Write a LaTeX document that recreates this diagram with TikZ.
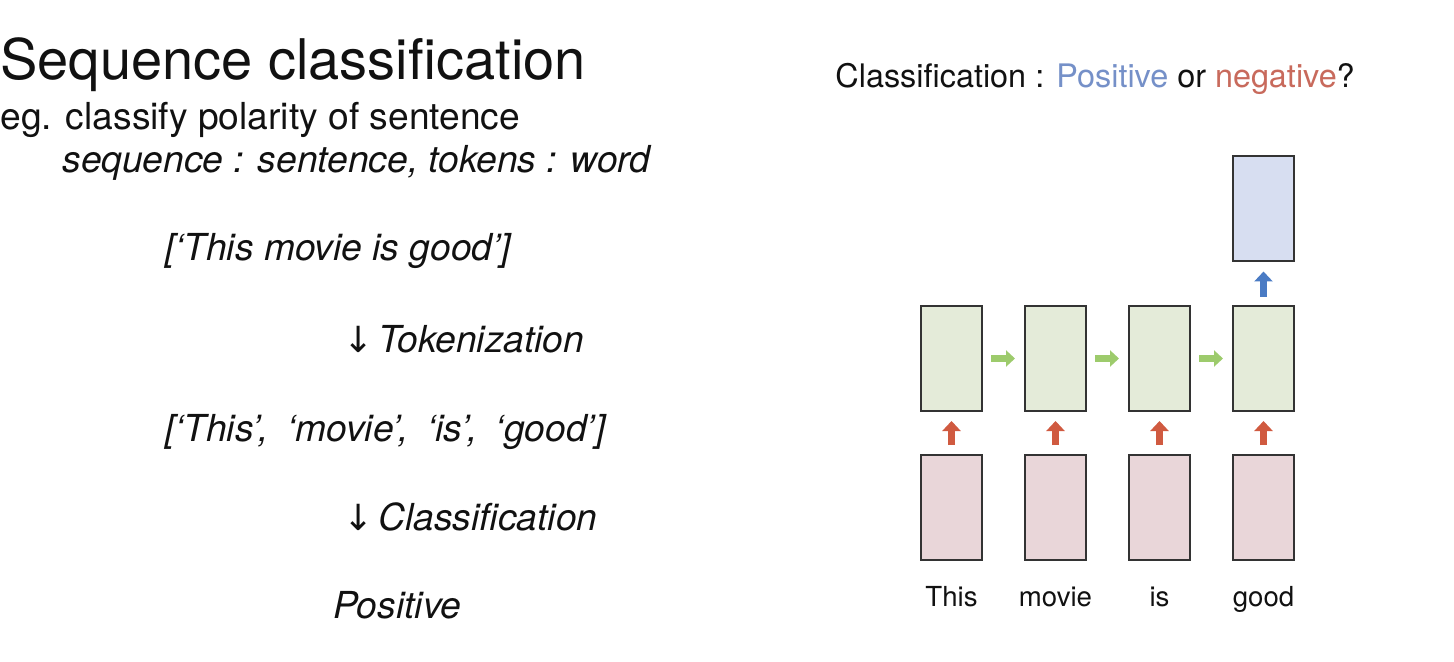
\documentclass[tikz,border=0pt]{standalone}
\usepackage{fontspec}
\setmainfont{TeX Gyre Heros}
\newfontfamily\symfont{DejaVu Sans}
\usetikzlibrary{arrows.meta}
\definecolor{gfill}{HTML}{E4EBD9}
\definecolor{pfill}{HTML}{E9D6D9}
\definecolor{bfill}{HTML}{D7DEF1}
\definecolor{boxline}{HTML}{333333}
\definecolor{garr}{HTML}{9DCB6C}
\definecolor{rarr}{HTML}{D05A40}
\definecolor{barr}{HTML}{4A7BC4}
\definecolor{postxt}{HTML}{7590C8}
\definecolor{negtxt}{HTML}{C86A5C}
\definecolor{txt}{HTML}{111111}
\newcommand{\downarr}{\makebox[17.5pt][l]{\symfont\itshape\fontsize{18pt}{20pt}\selectfont ↓}}
\begin{document}
\begin{tikzpicture}[x=0.5pt,y=-0.5pt,
  txtnode/.style={anchor=base west,inner sep=0pt,text=txt},
  cell/.style={draw=boxline,line width=1pt,minimum width=30.5pt,minimum height=52.5pt,inner sep=0pt},
  gcell/.style={cell,fill=gfill},
  pcell/.style={cell,fill=pfill},
  bcell/.style={cell,fill=bfill},
  garrow/.style={draw=garr,line width=3.2pt,-{Triangle[width=8pt,length=4.5pt]},shorten <=4pt,shorten >=4.5pt},
  rarrow/.style={draw=rarr,line width=3.4pt,-{Triangle[width=9pt,length=5pt]},shorten <=4.5pt,shorten >=4.5pt},
  barrow/.style={draw=barr,line width=3.4pt,-{Triangle[width=9pt,length=5pt]},shorten <=4pt,shorten >=4.5pt},
  wlabel/.style={anchor=base,inner sep=0pt,text=txt,font=\fontsize{13.8pt}{16pt}\selectfont}
]
\useasboundingbox (0,0) rectangle (1454,662);

% left text
\node[txtnode,font=\fontsize{28pt}{32pt}\selectfont] (title) at (0,80) {Sequence classification};
\node[txtnode,font=\fontsize{18.6pt}{22pt}\selectfont] (eg) at (0,130) {eg. classify polarity of sentence};
\node[txtnode,font=\fontsize{18.6pt}{22pt}\selectfont\itshape] (seq) at (62,173) {sequence : sentence, tokens : word};
\node[txtnode,font=\fontsize{18.6pt}{22pt}\selectfont\itshape] (sent) at (165,261) {[‘This movie is good’]};
\node[txtnode,font=\fontsize{18.6pt}{22pt}\selectfont\itshape] (tok) at (343,352) {\downarr Tokenization};
\node[txtnode,font=\fontsize{18.6pt}{22pt}\selectfont\itshape] (list) at (165,441) {[‘This’,\hspace{4pt} ‘movie’,\hspace{4pt} ‘is’,\hspace{4pt} ‘good’]};
\node[txtnode,font=\fontsize{18.6pt}{22pt}\selectfont\itshape] (cls) at (343,530) {\downarr Classification};
\node[txtnode,font=\fontsize{18.6pt}{22pt}\selectfont\itshape] (pos) at (333,618) {Positive};

% right title
\node[txtnode,font=\fontsize{16.2pt}{20pt}\selectfont] (rtitle) at (835,88) {Classification : \textcolor{postxt}{Positive} or \textcolor{negtxt}{negative}?};

% cells
\foreach \i/\x/\w in {1/951.5/This,2/1055.5/movie,3/1159.5/is,4/1263.5/good}{
  \node[gcell] (g\i) at (\x,358.5) {};
  \node[pcell] (p\i) at (\x,507.5) {};
  \node[wlabel] (w\i) at (\x,606) {\w};
  \draw[rarrow] (p\i.north) -- (g\i.south);
}
\node[bcell] (out) at (1263.5,209) {};

\draw[garrow] (g1.east) -- (g2.west);
\draw[garrow] (g2.east) -- (g3.west);
\draw[garrow] (g3.east) -- (g4.west);
\draw[barrow] (g4.north) -- (out.south);
\end{tikzpicture}
\end{document}
